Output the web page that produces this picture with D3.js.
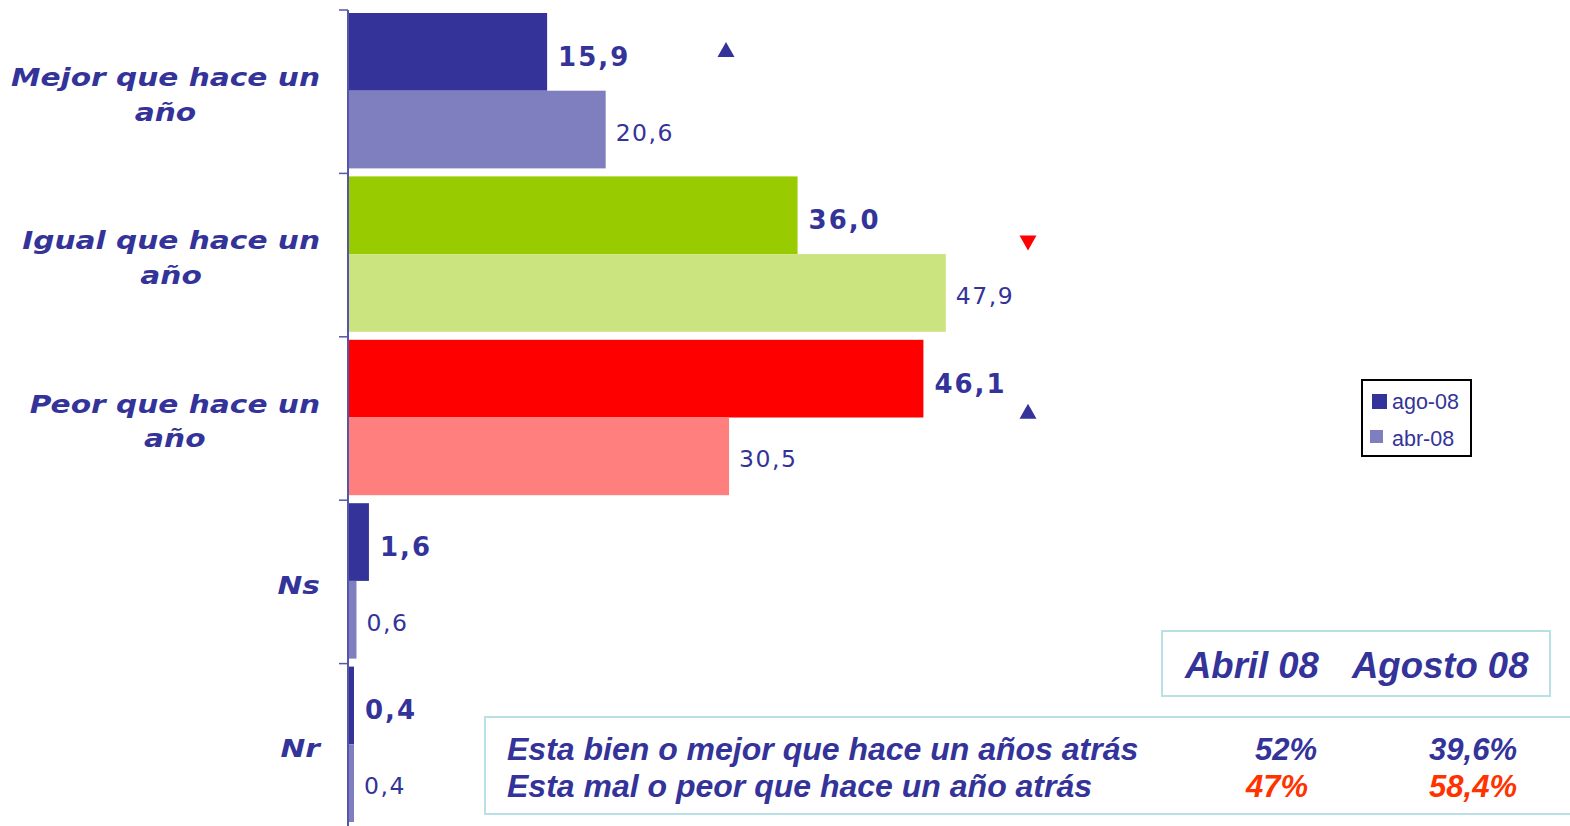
<!DOCTYPE html>
<html>
<head>
<meta charset="utf-8">
<script src="https://cdn.jsdelivr.net/npm/d3@7"></script>
<style>
  body { margin: 0; background: #fff; }
  svg { display: block; }
</style>
</head>
<body>
<svg id="chart" width="1570" height="826"></svg>
<script>
// categories (line breaks as in the original labels)
const categories = ['Mejor que hace un|año', 'Igual que hace un|año', 'Peor que hace un|año', 'Ns', 'Nr'];
const series = ['ago-08', 'abr-08'];
const ago08 = [15.9, 36.0, 46.1, 1.6, 0.4];
const abr08 = [20.6, 47.9, 30.5, 0.6, 0.4];
// bar colours per category: [ago-08, abr-08]
const barColors = [
  ['#333399', '#7f7fbf'],
  ['#99cc00', '#cce480'],
  ['#ff0000', '#ff7f7f'],
  ['#333399', '#7f7fbf'],
  ['#333399', '#7f7fbf']
];
const trends = ['up', 'down', 'up', null, null];

// summary table
const tableCols = ['Abril 08', 'Agosto 08'];
const tableRows = ['Esta bien o mejor que hace un años atrás', 'Esta mal o peor que hace un año atrás'];
const tableAbril = ['52%', '47%'];
const tableAgosto = ['39,6%', '58,4%'];

const NAVY = '#333399';
const fmt = v => v.toFixed(1).replace('.', ',');

const svg = d3.select('#chart');
svg.append('rect').attr('width', 1570).attr('height', 826).attr('fill', '#fff');

const x = d3.scaleLinear().domain([0, 10]).range([349, 473.6]);
const y = d3.scaleBand().domain(categories).range([10, 827]);
const ys = d3.scaleBand().domain(series).range([3, y.bandwidth() - 5]);

const rows = categories.map((c, i) => ({ c, i, vals: [ago08[i], abr08[i]] }));

const g = svg.append('g');
rows.forEach(r => {
  series.forEach((s, j) => {
    const v = r.vals[j];
    const y0 = y(r.c) + ys(s);
    const bw = Math.max(x(v) - x(0), 5);
    g.append('rect')
      .attr('x', x(0) - (j === 1 ? 2 : 1))
      .attr('y', y0)
      .attr('width', bw + (j === 1 ? 2 : 1))
      .attr('height', ys.bandwidth())
      .attr('fill', barColors[r.i][j]);
    g.append('text')
      .attr('x', x(0) + bw + (j === 0 ? 11 : 10))
      .attr('y', y0 + ys.bandwidth() / 2 + (j === 0 ? 14 : 11))
      .attr('font-family', 'DejaVu Sans, Verdana, sans-serif')
      .attr('font-size', j === 0 ? 26 : 23.5)
      .attr('font-weight', j === 0 ? 'bold' : 'normal')
      .attr('letter-spacing', j === 0 ? 2 : 1.5)
      .attr('fill', NAVY)
      .text(fmt(v));
  });
});

// axis with ticks at band boundaries
const axisX = 348;
g.append('line').attr('x1', axisX).attr('x2', axisX).attr('y1', 10).attr('y2', 826)
  .attr('stroke', '#5555aa').attr('stroke-width', 2);
categories.forEach(c => {
  g.append('line').attr('x1', axisX - 9).attr('x2', axisX).attr('y1', y(c)).attr('y2', y(c))
    .attr('stroke', '#5555aa').attr('stroke-width', 1.5);
});

// category labels
const labFont = { family: 'DejaVu Sans, Verdana, sans-serif', size: 24.5 };
rows.forEach(r => {
  const lines = r.c.split('|');
  const cy = y(r.c) + y.bandwidth() / 2;
  const lg = g.append('g')
    .attr('transform', `translate(320,${lines.length > 1 ? cy - 6 : cy + 12}) scale(1.21,1)`);
  const t1 = lg.append('text')
    .attr('text-anchor', 'end')
    .attr('font-family', labFont.family)
    .attr('font-size', labFont.size).attr('font-weight', 'bold').attr('font-style', 'italic')
    .attr('fill', NAVY).text(lines[0]);
  if (lines.length > 1) {
    const w = t1.node().getComputedTextLength();
    lg.append('text')
      .attr('x', -w / 2).attr('y', 35)
      .attr('text-anchor', 'middle')
      .attr('font-family', labFont.family)
      .attr('font-size', labFont.size).attr('font-weight', 'bold').attr('font-style', 'italic')
      .attr('fill', NAVY).text(lines[1]);
  }
});

// trend triangles
const triX = [726, 1028, 1028];
const triDy = [40, 69, 75];
trends.forEach((t, i) => {
  if (!t) return;
  const cx = triX[i], cy = y(categories[i]) + triDy[i];
  const pts = t === 'up'
    ? [[cx - 8.5, cy + 7], [cx + 8.5, cy + 7], [cx, cy - 8]]
    : [[cx - 8.5, cy - 7], [cx + 8.5, cy - 7], [cx, cy + 8]];
  g.append('path').attr('d', d3.line()(pts) + 'Z').attr('fill', t === 'up' ? NAVY : '#ff0000');
});

// legend
const leg = svg.append('g').attr('transform', 'translate(1362,380)');
leg.append('rect').attr('width', 109).attr('height', 76)
  .attr('fill', '#fff').attr('stroke', '#000').attr('stroke-width', 2);
series.forEach((s, j) => {
  leg.append('rect')
    .attr('x', j === 0 ? 10 : 8).attr('y', j === 0 ? 14 : 50)
    .attr('width', j === 0 ? 15 : 13).attr('height', j === 0 ? 15 : 13)
    .attr('fill', barColors[0][j]);
  leg.append('text')
    .attr('x', 30).attr('y', j === 0 ? 29 : 66)
    .attr('font-family', 'Liberation Sans, Arial, sans-serif')
    .attr('font-size', 21.5).attr('fill', NAVY)
    .text(s);
});

// summary table
const tf = 'Liberation Sans, Arial, sans-serif';
svg.append('rect').attr('x', 1162).attr('y', 631).attr('width', 388).attr('height', 65)
  .attr('fill', 'none').attr('stroke', '#b9e0e5').attr('stroke-width', 2);
const colX = [1185, 1352];
tableCols.forEach((c, i) => {
  svg.append('text').attr('x', colX[i]).attr('y', 678)
    .attr('font-family', tf).attr('font-size', 36.5).attr('font-weight', 'bold').attr('font-style', 'italic')
    .attr('fill', NAVY).text(c);
});
svg.append('path').attr('d', 'M1572,717H485V814H1572')
  .attr('fill', 'none').attr('stroke', '#b9e0e5').attr('stroke-width', 2);
const rowY = [760, 797];
tableRows.forEach((r, i) => {
  svg.append('text').attr('x', 507).attr('y', rowY[i])
    .attr('font-family', tf).attr('font-size', 32).attr('font-weight', 'bold').attr('font-style', 'italic')
    .attr('fill', NAVY).text(r);
  svg.append('text').attr('x', i === 0 ? 1317 : 1308).attr('y', rowY[i]).attr('text-anchor', 'end')
    .attr('font-family', tf).attr('font-size', 31).attr('font-weight', 'bold').attr('font-style', 'italic')
    .attr('fill', i === 0 ? NAVY : '#ff3300').text(tableAbril[i]);
  svg.append('text').attr('x', 1517).attr('y', rowY[i]).attr('text-anchor', 'end')
    .attr('font-family', tf).attr('font-size', 31).attr('font-weight', 'bold').attr('font-style', 'italic')
    .attr('fill', i === 0 ? NAVY : '#ff3300').text(tableAgosto[i]);
});
</script>
</body>
</html>
